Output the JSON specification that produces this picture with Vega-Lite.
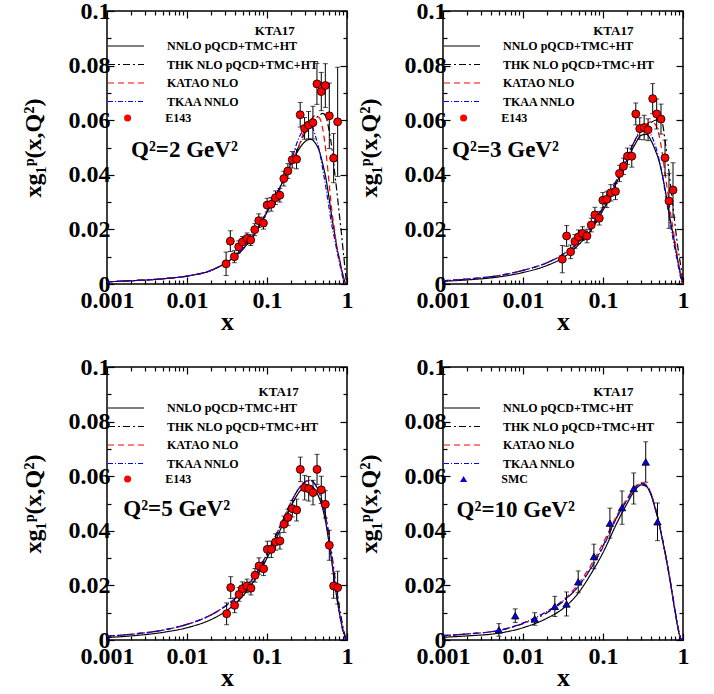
{
  "$schema": "https://vega.github.io/schema/vega-lite/v6.json",
  "background": "white",
  "padding": {"left": 20, "top": -2, "right": 2, "bottom": 0},
  "config": {
    "font": "Liberation Serif",
    "view": {"stroke": "black", "strokeWidth": 1.5},
    "axis": {
      "labelFont": "Liberation Serif", "labelFontWeight": "bold", "labelFontSize": 24, "labelColor": "black",
      "titleFont": "Liberation Serif", "titleFontWeight": "bold", "titleFontSize": 26, "titleColor": "black",
      "domain": false, "grid": false, "tickColor": "black", "tickWidth": 1.2
    },
    "legend": {"labelFont": "Liberation Serif", "labelFontWeight": "bold", "labelFontSize": 12, "labelColor": "black"}
  },
  "datasets": {
    "curves": [
      {"panel":1,"model":"NNLO pQCD+TMC+HT","x":0.001,"y":0.0008},{"panel":1,"model":"NNLO pQCD+TMC+HT","x":0.002,"y":0.0012},{"panel":1,"model":"NNLO pQCD+TMC+HT","x":0.005,"y":0.0019},{"panel":1,"model":"NNLO pQCD+TMC+HT","x":0.01,"y":0.0029},{"panel":1,"model":"NNLO pQCD+TMC+HT","x":0.02,"y":0.005},{"panel":1,"model":"NNLO pQCD+TMC+HT","x":0.03,"y":0.0076},{"panel":1,"model":"NNLO pQCD+TMC+HT","x":0.05,"y":0.0128},{"panel":1,"model":"NNLO pQCD+TMC+HT","x":0.07,"y":0.0183},{"panel":1,"model":"NNLO pQCD+TMC+HT","x":0.1,"y":0.0264},{"panel":1,"model":"NNLO pQCD+TMC+HT","x":0.15,"y":0.0362},{"panel":1,"model":"NNLO pQCD+TMC+HT","x":0.2,"y":0.044},{"panel":1,"model":"NNLO pQCD+TMC+HT","x":0.25,"y":0.0493},{"panel":1,"model":"NNLO pQCD+TMC+HT","x":0.3,"y":0.0522},{"panel":1,"model":"NNLO pQCD+TMC+HT","x":0.35,"y":0.053},{"panel":1,"model":"NNLO pQCD+TMC+HT","x":0.4,"y":0.0517},{"panel":1,"model":"NNLO pQCD+TMC+HT","x":0.45,"y":0.0487},{"panel":1,"model":"NNLO pQCD+TMC+HT","x":0.5,"y":0.0437},{"panel":1,"model":"NNLO pQCD+TMC+HT","x":0.55,"y":0.038},{"panel":1,"model":"NNLO pQCD+TMC+HT","x":0.6,"y":0.031},{"panel":1,"model":"NNLO pQCD+TMC+HT","x":0.65,"y":0.024},{"panel":1,"model":"NNLO pQCD+TMC+HT","x":0.7,"y":0.0186},{"panel":1,"model":"NNLO pQCD+TMC+HT","x":0.75,"y":0.0131},{"panel":1,"model":"NNLO pQCD+TMC+HT","x":0.8,"y":0.0095},{"panel":1,"model":"NNLO pQCD+TMC+HT","x":0.85,"y":0.0058},{"panel":1,"model":"NNLO pQCD+TMC+HT","x":0.9,"y":0.0028},{"panel":1,"model":"NNLO pQCD+TMC+HT","x":0.95,"y":0.0005},{"panel":1,"model":"NNLO pQCD+TMC+HT","x":0.98,"y":0},
      {"panel":1,"model":"THK NLO pQCD+TMC+HT","x":0.001,"y":0.0008},{"panel":1,"model":"THK NLO pQCD+TMC+HT","x":0.002,"y":0.0012},{"panel":1,"model":"THK NLO pQCD+TMC+HT","x":0.005,"y":0.0019},{"panel":1,"model":"THK NLO pQCD+TMC+HT","x":0.01,"y":0.0029},{"panel":1,"model":"THK NLO pQCD+TMC+HT","x":0.02,"y":0.005},{"panel":1,"model":"THK NLO pQCD+TMC+HT","x":0.03,"y":0.0076},{"panel":1,"model":"THK NLO pQCD+TMC+HT","x":0.05,"y":0.0128},{"panel":1,"model":"THK NLO pQCD+TMC+HT","x":0.07,"y":0.0183},{"panel":1,"model":"THK NLO pQCD+TMC+HT","x":0.1,"y":0.0264},{"panel":1,"model":"THK NLO pQCD+TMC+HT","x":0.15,"y":0.0362},{"panel":1,"model":"THK NLO pQCD+TMC+HT","x":0.2,"y":0.044},{"panel":1,"model":"THK NLO pQCD+TMC+HT","x":0.25,"y":0.0505},{"panel":1,"model":"THK NLO pQCD+TMC+HT","x":0.3,"y":0.0555},{"panel":1,"model":"THK NLO pQCD+TMC+HT","x":0.35,"y":0.0585},{"panel":1,"model":"THK NLO pQCD+TMC+HT","x":0.4,"y":0.0605},{"panel":1,"model":"THK NLO pQCD+TMC+HT","x":0.45,"y":0.0618},{"panel":1,"model":"THK NLO pQCD+TMC+HT","x":0.5,"y":0.0625},{"panel":1,"model":"THK NLO pQCD+TMC+HT","x":0.55,"y":0.061},{"panel":1,"model":"THK NLO pQCD+TMC+HT","x":0.6,"y":0.0558},{"panel":1,"model":"THK NLO pQCD+TMC+HT","x":0.65,"y":0.0495},{"panel":1,"model":"THK NLO pQCD+TMC+HT","x":0.7,"y":0.041},{"panel":1,"model":"THK NLO pQCD+TMC+HT","x":0.75,"y":0.0335},{"panel":1,"model":"THK NLO pQCD+TMC+HT","x":0.8,"y":0.0258},{"panel":1,"model":"THK NLO pQCD+TMC+HT","x":0.85,"y":0.0188},{"panel":1,"model":"THK NLO pQCD+TMC+HT","x":0.9,"y":0.0115},{"panel":1,"model":"THK NLO pQCD+TMC+HT","x":0.95,"y":0.005},{"panel":1,"model":"THK NLO pQCD+TMC+HT","x":0.98,"y":0.0012},{"panel":1,"model":"THK NLO pQCD+TMC+HT","x":1,"y":0},
      {"panel":1,"model":"KATAO NLO","x":0.001,"y":0.0008},{"panel":1,"model":"KATAO NLO","x":0.002,"y":0.0012},{"panel":1,"model":"KATAO NLO","x":0.005,"y":0.0019},{"panel":1,"model":"KATAO NLO","x":0.01,"y":0.0029},{"panel":1,"model":"KATAO NLO","x":0.02,"y":0.005},{"panel":1,"model":"KATAO NLO","x":0.03,"y":0.0076},{"panel":1,"model":"KATAO NLO","x":0.05,"y":0.0128},{"panel":1,"model":"KATAO NLO","x":0.07,"y":0.0183},{"panel":1,"model":"KATAO NLO","x":0.1,"y":0.0264},{"panel":1,"model":"KATAO NLO","x":0.15,"y":0.0362},{"panel":1,"model":"KATAO NLO","x":0.2,"y":0.044},{"panel":1,"model":"KATAO NLO","x":0.25,"y":0.0505},{"panel":1,"model":"KATAO NLO","x":0.3,"y":0.057},{"panel":1,"model":"KATAO NLO","x":0.35,"y":0.06},{"panel":1,"model":"KATAO NLO","x":0.4,"y":0.0617},{"panel":1,"model":"KATAO NLO","x":0.45,"y":0.061},{"panel":1,"model":"KATAO NLO","x":0.5,"y":0.0565},{"panel":1,"model":"KATAO NLO","x":0.55,"y":0.0475},{"panel":1,"model":"KATAO NLO","x":0.6,"y":0.0364},{"panel":1,"model":"KATAO NLO","x":0.65,"y":0.0262},{"panel":1,"model":"KATAO NLO","x":0.7,"y":0.0197},{"panel":1,"model":"KATAO NLO","x":0.75,"y":0.013},{"panel":1,"model":"KATAO NLO","x":0.8,"y":0.009},{"panel":1,"model":"KATAO NLO","x":0.85,"y":0.0053},{"panel":1,"model":"KATAO NLO","x":0.9,"y":0.002},{"panel":1,"model":"KATAO NLO","x":0.95,"y":0.0003},{"panel":1,"model":"KATAO NLO","x":0.98,"y":0},
      {"panel":1,"model":"TKAA NNLO","x":0.001,"y":0.0008},{"panel":1,"model":"TKAA NNLO","x":0.002,"y":0.0012},{"panel":1,"model":"TKAA NNLO","x":0.005,"y":0.0019},{"panel":1,"model":"TKAA NNLO","x":0.01,"y":0.0029},{"panel":1,"model":"TKAA NNLO","x":0.02,"y":0.005},{"panel":1,"model":"TKAA NNLO","x":0.03,"y":0.0076},{"panel":1,"model":"TKAA NNLO","x":0.05,"y":0.0128},{"panel":1,"model":"TKAA NNLO","x":0.07,"y":0.0183},{"panel":1,"model":"TKAA NNLO","x":0.1,"y":0.0264},{"panel":1,"model":"TKAA NNLO","x":0.15,"y":0.0365},{"panel":1,"model":"TKAA NNLO","x":0.2,"y":0.045},{"panel":1,"model":"TKAA NNLO","x":0.25,"y":0.0535},{"panel":1,"model":"TKAA NNLO","x":0.3,"y":0.0572},{"panel":1,"model":"TKAA NNLO","x":0.35,"y":0.0585},{"panel":1,"model":"TKAA NNLO","x":0.4,"y":0.0545},{"panel":1,"model":"TKAA NNLO","x":0.45,"y":0.049},{"panel":1,"model":"TKAA NNLO","x":0.5,"y":0.0418},{"panel":1,"model":"TKAA NNLO","x":0.55,"y":0.0345},{"panel":1,"model":"TKAA NNLO","x":0.6,"y":0.0275},{"panel":1,"model":"TKAA NNLO","x":0.65,"y":0.021},{"panel":1,"model":"TKAA NNLO","x":0.7,"y":0.0165},{"panel":1,"model":"TKAA NNLO","x":0.75,"y":0.012},{"panel":1,"model":"TKAA NNLO","x":0.8,"y":0.0082},{"panel":1,"model":"TKAA NNLO","x":0.85,"y":0.0047},{"panel":1,"model":"TKAA NNLO","x":0.9,"y":0.0015},{"panel":1,"model":"TKAA NNLO","x":0.95,"y":0},

      {"panel":2,"model":"NNLO pQCD+TMC+HT","x":0.001,"y":0.001},{"panel":2,"model":"NNLO pQCD+TMC+HT","x":0.002,"y":0.0015},{"panel":2,"model":"NNLO pQCD+TMC+HT","x":0.005,"y":0.0026},{"panel":2,"model":"NNLO pQCD+TMC+HT","x":0.01,"y":0.0042},{"panel":2,"model":"NNLO pQCD+TMC+HT","x":0.02,"y":0.0068},{"panel":2,"model":"NNLO pQCD+TMC+HT","x":0.03,"y":0.0092},{"panel":2,"model":"NNLO pQCD+TMC+HT","x":0.05,"y":0.0145},{"panel":2,"model":"NNLO pQCD+TMC+HT","x":0.07,"y":0.0195},{"panel":2,"model":"NNLO pQCD+TMC+HT","x":0.1,"y":0.027},{"panel":2,"model":"NNLO pQCD+TMC+HT","x":0.15,"y":0.0375},{"panel":2,"model":"NNLO pQCD+TMC+HT","x":0.2,"y":0.0455},{"panel":2,"model":"NNLO pQCD+TMC+HT","x":0.25,"y":0.051},{"panel":2,"model":"NNLO pQCD+TMC+HT","x":0.3,"y":0.0545},{"panel":2,"model":"NNLO pQCD+TMC+HT","x":0.35,"y":0.0548},{"panel":2,"model":"NNLO pQCD+TMC+HT","x":0.4,"y":0.0525},{"panel":2,"model":"NNLO pQCD+TMC+HT","x":0.45,"y":0.049},{"panel":2,"model":"NNLO pQCD+TMC+HT","x":0.5,"y":0.0452},{"panel":2,"model":"NNLO pQCD+TMC+HT","x":0.55,"y":0.04},{"panel":2,"model":"NNLO pQCD+TMC+HT","x":0.6,"y":0.0344},{"panel":2,"model":"NNLO pQCD+TMC+HT","x":0.65,"y":0.0283},{"panel":2,"model":"NNLO pQCD+TMC+HT","x":0.7,"y":0.0228},{"panel":2,"model":"NNLO pQCD+TMC+HT","x":0.75,"y":0.0183},{"panel":2,"model":"NNLO pQCD+TMC+HT","x":0.8,"y":0.0138},{"panel":2,"model":"NNLO pQCD+TMC+HT","x":0.85,"y":0.0095},{"panel":2,"model":"NNLO pQCD+TMC+HT","x":0.9,"y":0.0058},{"panel":2,"model":"NNLO pQCD+TMC+HT","x":0.95,"y":0.0025},{"panel":2,"model":"NNLO pQCD+TMC+HT","x":0.98,"y":0.001},{"panel":2,"model":"NNLO pQCD+TMC+HT","x":1,"y":0},
      {"panel":2,"model":"THK NLO pQCD+TMC+HT","x":0.001,"y":0.0012},{"panel":2,"model":"THK NLO pQCD+TMC+HT","x":0.002,"y":0.0018},{"panel":2,"model":"THK NLO pQCD+TMC+HT","x":0.005,"y":0.0031},{"panel":2,"model":"THK NLO pQCD+TMC+HT","x":0.01,"y":0.005},{"panel":2,"model":"THK NLO pQCD+TMC+HT","x":0.02,"y":0.0078},{"panel":2,"model":"THK NLO pQCD+TMC+HT","x":0.03,"y":0.0104},{"panel":2,"model":"THK NLO pQCD+TMC+HT","x":0.05,"y":0.0155},{"panel":2,"model":"THK NLO pQCD+TMC+HT","x":0.07,"y":0.0205},{"panel":2,"model":"THK NLO pQCD+TMC+HT","x":0.1,"y":0.028},{"panel":2,"model":"THK NLO pQCD+TMC+HT","x":0.15,"y":0.0385},{"panel":2,"model":"THK NLO pQCD+TMC+HT","x":0.2,"y":0.0465},{"panel":2,"model":"THK NLO pQCD+TMC+HT","x":0.25,"y":0.0525},{"panel":2,"model":"THK NLO pQCD+TMC+HT","x":0.3,"y":0.056},{"panel":2,"model":"THK NLO pQCD+TMC+HT","x":0.35,"y":0.058},{"panel":2,"model":"THK NLO pQCD+TMC+HT","x":0.4,"y":0.0592},{"panel":2,"model":"THK NLO pQCD+TMC+HT","x":0.45,"y":0.06},{"panel":2,"model":"THK NLO pQCD+TMC+HT","x":0.5,"y":0.0602},{"panel":2,"model":"THK NLO pQCD+TMC+HT","x":0.55,"y":0.059},{"panel":2,"model":"THK NLO pQCD+TMC+HT","x":0.6,"y":0.052},{"panel":2,"model":"THK NLO pQCD+TMC+HT","x":0.65,"y":0.044},{"panel":2,"model":"THK NLO pQCD+TMC+HT","x":0.7,"y":0.036},{"panel":2,"model":"THK NLO pQCD+TMC+HT","x":0.75,"y":0.0285},{"panel":2,"model":"THK NLO pQCD+TMC+HT","x":0.8,"y":0.021},{"panel":2,"model":"THK NLO pQCD+TMC+HT","x":0.85,"y":0.0148},{"panel":2,"model":"THK NLO pQCD+TMC+HT","x":0.9,"y":0.0098},{"panel":2,"model":"THK NLO pQCD+TMC+HT","x":0.95,"y":0.0055},{"panel":2,"model":"THK NLO pQCD+TMC+HT","x":0.98,"y":0.002},{"panel":2,"model":"THK NLO pQCD+TMC+HT","x":1,"y":0},
      {"panel":2,"model":"KATAO NLO","x":0.001,"y":0.0012},{"panel":2,"model":"KATAO NLO","x":0.002,"y":0.0018},{"panel":2,"model":"KATAO NLO","x":0.005,"y":0.0031},{"panel":2,"model":"KATAO NLO","x":0.01,"y":0.005},{"panel":2,"model":"KATAO NLO","x":0.02,"y":0.0078},{"panel":2,"model":"KATAO NLO","x":0.03,"y":0.0104},{"panel":2,"model":"KATAO NLO","x":0.05,"y":0.0155},{"panel":2,"model":"KATAO NLO","x":0.07,"y":0.0205},{"panel":2,"model":"KATAO NLO","x":0.1,"y":0.028},{"panel":2,"model":"KATAO NLO","x":0.15,"y":0.0385},{"panel":2,"model":"KATAO NLO","x":0.2,"y":0.0465},{"panel":2,"model":"KATAO NLO","x":0.25,"y":0.0525},{"panel":2,"model":"KATAO NLO","x":0.3,"y":0.0565},{"panel":2,"model":"KATAO NLO","x":0.35,"y":0.0585},{"panel":2,"model":"KATAO NLO","x":0.4,"y":0.0595},{"panel":2,"model":"KATAO NLO","x":0.45,"y":0.0585},{"panel":2,"model":"KATAO NLO","x":0.5,"y":0.0548},{"panel":2,"model":"KATAO NLO","x":0.55,"y":0.048},{"panel":2,"model":"KATAO NLO","x":0.6,"y":0.04},{"panel":2,"model":"KATAO NLO","x":0.65,"y":0.0328},{"panel":2,"model":"KATAO NLO","x":0.7,"y":0.0258},{"panel":2,"model":"KATAO NLO","x":0.75,"y":0.0203},{"panel":2,"model":"KATAO NLO","x":0.8,"y":0.015},{"panel":2,"model":"KATAO NLO","x":0.85,"y":0.0103},{"panel":2,"model":"KATAO NLO","x":0.9,"y":0.0056},{"panel":2,"model":"KATAO NLO","x":0.95,"y":0.002},{"panel":2,"model":"KATAO NLO","x":0.98,"y":0},
      {"panel":2,"model":"TKAA NNLO","x":0.001,"y":0.0012},{"panel":2,"model":"TKAA NNLO","x":0.002,"y":0.0018},{"panel":2,"model":"TKAA NNLO","x":0.005,"y":0.0031},{"panel":2,"model":"TKAA NNLO","x":0.01,"y":0.005},{"panel":2,"model":"TKAA NNLO","x":0.02,"y":0.0078},{"panel":2,"model":"TKAA NNLO","x":0.03,"y":0.0104},{"panel":2,"model":"TKAA NNLO","x":0.05,"y":0.0155},{"panel":2,"model":"TKAA NNLO","x":0.07,"y":0.0205},{"panel":2,"model":"TKAA NNLO","x":0.1,"y":0.028},{"panel":2,"model":"TKAA NNLO","x":0.15,"y":0.0385},{"panel":2,"model":"TKAA NNLO","x":0.2,"y":0.0465},{"panel":2,"model":"TKAA NNLO","x":0.25,"y":0.0525},{"panel":2,"model":"TKAA NNLO","x":0.3,"y":0.0568},{"panel":2,"model":"TKAA NNLO","x":0.35,"y":0.057},{"panel":2,"model":"TKAA NNLO","x":0.4,"y":0.0545},{"panel":2,"model":"TKAA NNLO","x":0.45,"y":0.0508},{"panel":2,"model":"TKAA NNLO","x":0.5,"y":0.0458},{"panel":2,"model":"TKAA NNLO","x":0.55,"y":0.0403},{"panel":2,"model":"TKAA NNLO","x":0.6,"y":0.0333},{"panel":2,"model":"TKAA NNLO","x":0.65,"y":0.0272},{"panel":2,"model":"TKAA NNLO","x":0.7,"y":0.0215},{"panel":2,"model":"TKAA NNLO","x":0.75,"y":0.0165},{"panel":2,"model":"TKAA NNLO","x":0.8,"y":0.0122},{"panel":2,"model":"TKAA NNLO","x":0.85,"y":0.0083},{"panel":2,"model":"TKAA NNLO","x":0.9,"y":0.0045},{"panel":2,"model":"TKAA NNLO","x":0.95,"y":0.0015},{"panel":2,"model":"TKAA NNLO","x":0.98,"y":0},

      {"panel":3,"model":"NNLO pQCD+TMC+HT","x":0.001,"y":0.0009},{"panel":3,"model":"NNLO pQCD+TMC+HT","x":0.002,"y":0.0015},{"panel":3,"model":"NNLO pQCD+TMC+HT","x":0.005,"y":0.0028},{"panel":3,"model":"NNLO pQCD+TMC+HT","x":0.01,"y":0.0045},{"panel":3,"model":"NNLO pQCD+TMC+HT","x":0.02,"y":0.0075},{"panel":3,"model":"NNLO pQCD+TMC+HT","x":0.03,"y":0.0104},{"panel":3,"model":"NNLO pQCD+TMC+HT","x":0.05,"y":0.0162},{"panel":3,"model":"NNLO pQCD+TMC+HT","x":0.07,"y":0.022},{"panel":3,"model":"NNLO pQCD+TMC+HT","x":0.1,"y":0.03},{"panel":3,"model":"NNLO pQCD+TMC+HT","x":0.15,"y":0.041},{"panel":3,"model":"NNLO pQCD+TMC+HT","x":0.2,"y":0.049},{"panel":3,"model":"NNLO pQCD+TMC+HT","x":0.25,"y":0.054},{"panel":3,"model":"NNLO pQCD+TMC+HT","x":0.3,"y":0.0563},{"panel":3,"model":"NNLO pQCD+TMC+HT","x":0.35,"y":0.0565},{"panel":3,"model":"NNLO pQCD+TMC+HT","x":0.4,"y":0.055},{"panel":3,"model":"NNLO pQCD+TMC+HT","x":0.45,"y":0.052},{"panel":3,"model":"NNLO pQCD+TMC+HT","x":0.5,"y":0.0478},{"panel":3,"model":"NNLO pQCD+TMC+HT","x":0.55,"y":0.042},{"panel":3,"model":"NNLO pQCD+TMC+HT","x":0.6,"y":0.035},{"panel":3,"model":"NNLO pQCD+TMC+HT","x":0.65,"y":0.028},{"panel":3,"model":"NNLO pQCD+TMC+HT","x":0.7,"y":0.021},{"panel":3,"model":"NNLO pQCD+TMC+HT","x":0.75,"y":0.0152},{"panel":3,"model":"NNLO pQCD+TMC+HT","x":0.8,"y":0.0103},{"panel":3,"model":"NNLO pQCD+TMC+HT","x":0.85,"y":0.0063},{"panel":3,"model":"NNLO pQCD+TMC+HT","x":0.9,"y":0.0032},{"panel":3,"model":"NNLO pQCD+TMC+HT","x":0.95,"y":0.001},{"panel":3,"model":"NNLO pQCD+TMC+HT","x":0.98,"y":0},
      {"panel":3,"model":"THK NLO pQCD+TMC+HT","x":0.001,"y":0.0014},{"panel":3,"model":"THK NLO pQCD+TMC+HT","x":0.002,"y":0.0021},{"panel":3,"model":"THK NLO pQCD+TMC+HT","x":0.005,"y":0.0036},{"panel":3,"model":"THK NLO pQCD+TMC+HT","x":0.01,"y":0.0057},{"panel":3,"model":"THK NLO pQCD+TMC+HT","x":0.02,"y":0.0092},{"panel":3,"model":"THK NLO pQCD+TMC+HT","x":0.03,"y":0.0124},{"panel":3,"model":"THK NLO pQCD+TMC+HT","x":0.05,"y":0.018},{"panel":3,"model":"THK NLO pQCD+TMC+HT","x":0.07,"y":0.0235},{"panel":3,"model":"THK NLO pQCD+TMC+HT","x":0.1,"y":0.0315},{"panel":3,"model":"THK NLO pQCD+TMC+HT","x":0.15,"y":0.0425},{"panel":3,"model":"THK NLO pQCD+TMC+HT","x":0.2,"y":0.0505},{"panel":3,"model":"THK NLO pQCD+TMC+HT","x":0.25,"y":0.0555},{"panel":3,"model":"THK NLO pQCD+TMC+HT","x":0.3,"y":0.058},{"panel":3,"model":"THK NLO pQCD+TMC+HT","x":0.35,"y":0.0585},{"panel":3,"model":"THK NLO pQCD+TMC+HT","x":0.4,"y":0.057},{"panel":3,"model":"THK NLO pQCD+TMC+HT","x":0.45,"y":0.054},{"panel":3,"model":"THK NLO pQCD+TMC+HT","x":0.5,"y":0.0495},{"panel":3,"model":"THK NLO pQCD+TMC+HT","x":0.55,"y":0.0445},{"panel":3,"model":"THK NLO pQCD+TMC+HT","x":0.6,"y":0.038},{"panel":3,"model":"THK NLO pQCD+TMC+HT","x":0.65,"y":0.031},{"panel":3,"model":"THK NLO pQCD+TMC+HT","x":0.7,"y":0.024},{"panel":3,"model":"THK NLO pQCD+TMC+HT","x":0.75,"y":0.0178},{"panel":3,"model":"THK NLO pQCD+TMC+HT","x":0.8,"y":0.0125},{"panel":3,"model":"THK NLO pQCD+TMC+HT","x":0.85,"y":0.008},{"panel":3,"model":"THK NLO pQCD+TMC+HT","x":0.9,"y":0.0042},{"panel":3,"model":"THK NLO pQCD+TMC+HT","x":0.95,"y":0.0015},{"panel":3,"model":"THK NLO pQCD+TMC+HT","x":0.98,"y":0.0004},{"panel":3,"model":"THK NLO pQCD+TMC+HT","x":1,"y":0},
      {"panel":3,"model":"KATAO NLO","x":0.001,"y":0.0014},{"panel":3,"model":"KATAO NLO","x":0.002,"y":0.0021},{"panel":3,"model":"KATAO NLO","x":0.005,"y":0.0036},{"panel":3,"model":"KATAO NLO","x":0.01,"y":0.0057},{"panel":3,"model":"KATAO NLO","x":0.02,"y":0.0092},{"panel":3,"model":"KATAO NLO","x":0.03,"y":0.0124},{"panel":3,"model":"KATAO NLO","x":0.05,"y":0.018},{"panel":3,"model":"KATAO NLO","x":0.07,"y":0.0235},{"panel":3,"model":"KATAO NLO","x":0.1,"y":0.0315},{"panel":3,"model":"KATAO NLO","x":0.15,"y":0.0425},{"panel":3,"model":"KATAO NLO","x":0.2,"y":0.0505},{"panel":3,"model":"KATAO NLO","x":0.25,"y":0.0555},{"panel":3,"model":"KATAO NLO","x":0.3,"y":0.058},{"panel":3,"model":"KATAO NLO","x":0.35,"y":0.0585},{"panel":3,"model":"KATAO NLO","x":0.4,"y":0.057},{"panel":3,"model":"KATAO NLO","x":0.45,"y":0.054},{"panel":3,"model":"KATAO NLO","x":0.5,"y":0.0495},{"panel":3,"model":"KATAO NLO","x":0.55,"y":0.044},{"panel":3,"model":"KATAO NLO","x":0.6,"y":0.037},{"panel":3,"model":"KATAO NLO","x":0.65,"y":0.0295},{"panel":3,"model":"KATAO NLO","x":0.7,"y":0.022},{"panel":3,"model":"KATAO NLO","x":0.75,"y":0.0158},{"panel":3,"model":"KATAO NLO","x":0.8,"y":0.0105},{"panel":3,"model":"KATAO NLO","x":0.85,"y":0.0062},{"panel":3,"model":"KATAO NLO","x":0.9,"y":0.0028},{"panel":3,"model":"KATAO NLO","x":0.95,"y":0.0006},{"panel":3,"model":"KATAO NLO","x":0.98,"y":0},
      {"panel":3,"model":"TKAA NNLO","x":0.001,"y":0.0014},{"panel":3,"model":"TKAA NNLO","x":0.002,"y":0.0021},{"panel":3,"model":"TKAA NNLO","x":0.005,"y":0.0036},{"panel":3,"model":"TKAA NNLO","x":0.01,"y":0.0057},{"panel":3,"model":"TKAA NNLO","x":0.02,"y":0.0092},{"panel":3,"model":"TKAA NNLO","x":0.03,"y":0.0124},{"panel":3,"model":"TKAA NNLO","x":0.05,"y":0.018},{"panel":3,"model":"TKAA NNLO","x":0.07,"y":0.0235},{"panel":3,"model":"TKAA NNLO","x":0.1,"y":0.0315},{"panel":3,"model":"TKAA NNLO","x":0.15,"y":0.0425},{"panel":3,"model":"TKAA NNLO","x":0.2,"y":0.0505},{"panel":3,"model":"TKAA NNLO","x":0.25,"y":0.0555},{"panel":3,"model":"TKAA NNLO","x":0.3,"y":0.058},{"panel":3,"model":"TKAA NNLO","x":0.35,"y":0.0585},{"panel":3,"model":"TKAA NNLO","x":0.4,"y":0.057},{"panel":3,"model":"TKAA NNLO","x":0.45,"y":0.054},{"panel":3,"model":"TKAA NNLO","x":0.5,"y":0.0495},{"panel":3,"model":"TKAA NNLO","x":0.55,"y":0.0435},{"panel":3,"model":"TKAA NNLO","x":0.6,"y":0.0362},{"panel":3,"model":"TKAA NNLO","x":0.65,"y":0.0287},{"panel":3,"model":"TKAA NNLO","x":0.7,"y":0.0212},{"panel":3,"model":"TKAA NNLO","x":0.75,"y":0.0152},{"panel":3,"model":"TKAA NNLO","x":0.8,"y":0.01},{"panel":3,"model":"TKAA NNLO","x":0.85,"y":0.0058},{"panel":3,"model":"TKAA NNLO","x":0.9,"y":0.0025},{"panel":3,"model":"TKAA NNLO","x":0.95,"y":0.0005},{"panel":3,"model":"TKAA NNLO","x":0.98,"y":0},

      {"panel":4,"model":"NNLO pQCD+TMC+HT","x":0.001,"y":0.001},{"panel":4,"model":"NNLO pQCD+TMC+HT","x":0.002,"y":0.0015},{"panel":4,"model":"NNLO pQCD+TMC+HT","x":0.005,"y":0.0025},{"panel":4,"model":"NNLO pQCD+TMC+HT","x":0.01,"y":0.0045},{"panel":4,"model":"NNLO pQCD+TMC+HT","x":0.02,"y":0.008},{"panel":4,"model":"NNLO pQCD+TMC+HT","x":0.03,"y":0.011},{"panel":4,"model":"NNLO pQCD+TMC+HT","x":0.05,"y":0.0175},{"panel":4,"model":"NNLO pQCD+TMC+HT","x":0.07,"y":0.024},{"panel":4,"model":"NNLO pQCD+TMC+HT","x":0.1,"y":0.032},{"panel":4,"model":"NNLO pQCD+TMC+HT","x":0.15,"y":0.043},{"panel":4,"model":"NNLO pQCD+TMC+HT","x":0.2,"y":0.05},{"panel":4,"model":"NNLO pQCD+TMC+HT","x":0.25,"y":0.0548},{"panel":4,"model":"NNLO pQCD+TMC+HT","x":0.3,"y":0.0568},{"panel":4,"model":"NNLO pQCD+TMC+HT","x":0.35,"y":0.0562},{"panel":4,"model":"NNLO pQCD+TMC+HT","x":0.4,"y":0.053},{"panel":4,"model":"NNLO pQCD+TMC+HT","x":0.45,"y":0.048},{"panel":4,"model":"NNLO pQCD+TMC+HT","x":0.5,"y":0.0428},{"panel":4,"model":"NNLO pQCD+TMC+HT","x":0.55,"y":0.037},{"panel":4,"model":"NNLO pQCD+TMC+HT","x":0.6,"y":0.0315},{"panel":4,"model":"NNLO pQCD+TMC+HT","x":0.65,"y":0.026},{"panel":4,"model":"NNLO pQCD+TMC+HT","x":0.7,"y":0.0205},{"panel":4,"model":"NNLO pQCD+TMC+HT","x":0.75,"y":0.015},{"panel":4,"model":"NNLO pQCD+TMC+HT","x":0.8,"y":0.01},{"panel":4,"model":"NNLO pQCD+TMC+HT","x":0.85,"y":0.0055},{"panel":4,"model":"NNLO pQCD+TMC+HT","x":0.9,"y":0.002},{"panel":4,"model":"NNLO pQCD+TMC+HT","x":0.95,"y":0.0003},{"panel":4,"model":"NNLO pQCD+TMC+HT","x":0.98,"y":0},
      {"panel":4,"model":"THK NLO pQCD+TMC+HT","x":0.001,"y":0.0016},{"panel":4,"model":"THK NLO pQCD+TMC+HT","x":0.002,"y":0.0022},{"panel":4,"model":"THK NLO pQCD+TMC+HT","x":0.005,"y":0.0035},{"panel":4,"model":"THK NLO pQCD+TMC+HT","x":0.01,"y":0.006},{"panel":4,"model":"THK NLO pQCD+TMC+HT","x":0.02,"y":0.01},{"panel":4,"model":"THK NLO pQCD+TMC+HT","x":0.03,"y":0.0135},{"panel":4,"model":"THK NLO pQCD+TMC+HT","x":0.05,"y":0.02},{"panel":4,"model":"THK NLO pQCD+TMC+HT","x":0.07,"y":0.0262},{"panel":4,"model":"THK NLO pQCD+TMC+HT","x":0.1,"y":0.0345},{"panel":4,"model":"THK NLO pQCD+TMC+HT","x":0.15,"y":0.0452},{"panel":4,"model":"THK NLO pQCD+TMC+HT","x":0.2,"y":0.0514},{"panel":4,"model":"THK NLO pQCD+TMC+HT","x":0.25,"y":0.0557},{"panel":4,"model":"THK NLO pQCD+TMC+HT","x":0.3,"y":0.0574},{"panel":4,"model":"THK NLO pQCD+TMC+HT","x":0.35,"y":0.0566},{"panel":4,"model":"THK NLO pQCD+TMC+HT","x":0.4,"y":0.0534},{"panel":4,"model":"THK NLO pQCD+TMC+HT","x":0.45,"y":0.0485},{"panel":4,"model":"THK NLO pQCD+TMC+HT","x":0.5,"y":0.0433},{"panel":4,"model":"THK NLO pQCD+TMC+HT","x":0.55,"y":0.0375},{"panel":4,"model":"THK NLO pQCD+TMC+HT","x":0.6,"y":0.032},{"panel":4,"model":"THK NLO pQCD+TMC+HT","x":0.65,"y":0.0266},{"panel":4,"model":"THK NLO pQCD+TMC+HT","x":0.7,"y":0.0211},{"panel":4,"model":"THK NLO pQCD+TMC+HT","x":0.75,"y":0.0157},{"panel":4,"model":"THK NLO pQCD+TMC+HT","x":0.8,"y":0.0106},{"panel":4,"model":"THK NLO pQCD+TMC+HT","x":0.85,"y":0.0061},{"panel":4,"model":"THK NLO pQCD+TMC+HT","x":0.9,"y":0.0025},{"panel":4,"model":"THK NLO pQCD+TMC+HT","x":0.95,"y":0.0006},{"panel":4,"model":"THK NLO pQCD+TMC+HT","x":0.98,"y":0.0001},
      {"panel":4,"model":"KATAO NLO","x":0.001,"y":0.0016},{"panel":4,"model":"KATAO NLO","x":0.002,"y":0.0022},{"panel":4,"model":"KATAO NLO","x":0.005,"y":0.0035},{"panel":4,"model":"KATAO NLO","x":0.01,"y":0.0062},{"panel":4,"model":"KATAO NLO","x":0.02,"y":0.0105},{"panel":4,"model":"KATAO NLO","x":0.03,"y":0.014},{"panel":4,"model":"KATAO NLO","x":0.05,"y":0.0208},{"panel":4,"model":"KATAO NLO","x":0.07,"y":0.0272},{"panel":4,"model":"KATAO NLO","x":0.1,"y":0.0355},{"panel":4,"model":"KATAO NLO","x":0.15,"y":0.0458},{"panel":4,"model":"KATAO NLO","x":0.2,"y":0.0518},{"panel":4,"model":"KATAO NLO","x":0.25,"y":0.056},{"panel":4,"model":"KATAO NLO","x":0.3,"y":0.0577},{"panel":4,"model":"KATAO NLO","x":0.35,"y":0.0568},{"panel":4,"model":"KATAO NLO","x":0.4,"y":0.0535},{"panel":4,"model":"KATAO NLO","x":0.45,"y":0.0485},{"panel":4,"model":"KATAO NLO","x":0.5,"y":0.0432},{"panel":4,"model":"KATAO NLO","x":0.55,"y":0.0373},{"panel":4,"model":"KATAO NLO","x":0.6,"y":0.0318},{"panel":4,"model":"KATAO NLO","x":0.65,"y":0.0263},{"panel":4,"model":"KATAO NLO","x":0.7,"y":0.0208},{"panel":4,"model":"KATAO NLO","x":0.75,"y":0.0153},{"panel":4,"model":"KATAO NLO","x":0.8,"y":0.0102},{"panel":4,"model":"KATAO NLO","x":0.85,"y":0.0057},{"panel":4,"model":"KATAO NLO","x":0.9,"y":0.0021},{"panel":4,"model":"KATAO NLO","x":0.95,"y":0.0003},{"panel":4,"model":"KATAO NLO","x":0.98,"y":0},
      {"panel":4,"model":"TKAA NNLO","x":0.001,"y":0.0016},{"panel":4,"model":"TKAA NNLO","x":0.002,"y":0.0022},{"panel":4,"model":"TKAA NNLO","x":0.005,"y":0.0035},{"panel":4,"model":"TKAA NNLO","x":0.01,"y":0.0062},{"panel":4,"model":"TKAA NNLO","x":0.02,"y":0.0105},{"panel":4,"model":"TKAA NNLO","x":0.03,"y":0.0138},{"panel":4,"model":"TKAA NNLO","x":0.05,"y":0.0198},{"panel":4,"model":"TKAA NNLO","x":0.07,"y":0.026},{"panel":4,"model":"TKAA NNLO","x":0.1,"y":0.034},{"panel":4,"model":"TKAA NNLO","x":0.15,"y":0.045},{"panel":4,"model":"TKAA NNLO","x":0.2,"y":0.0512},{"panel":4,"model":"TKAA NNLO","x":0.25,"y":0.0556},{"panel":4,"model":"TKAA NNLO","x":0.3,"y":0.0573},{"panel":4,"model":"TKAA NNLO","x":0.35,"y":0.0565},{"panel":4,"model":"TKAA NNLO","x":0.4,"y":0.0532},{"panel":4,"model":"TKAA NNLO","x":0.45,"y":0.0482},{"panel":4,"model":"TKAA NNLO","x":0.5,"y":0.043},{"panel":4,"model":"TKAA NNLO","x":0.55,"y":0.0371},{"panel":4,"model":"TKAA NNLO","x":0.6,"y":0.0316},{"panel":4,"model":"TKAA NNLO","x":0.65,"y":0.0261},{"panel":4,"model":"TKAA NNLO","x":0.7,"y":0.0206},{"panel":4,"model":"TKAA NNLO","x":0.75,"y":0.0151},{"panel":4,"model":"TKAA NNLO","x":0.8,"y":0.0101},{"panel":4,"model":"TKAA NNLO","x":0.85,"y":0.0056},{"panel":4,"model":"TKAA NNLO","x":0.9,"y":0.002},{"panel":4,"model":"TKAA NNLO","x":0.95,"y":0.0003},{"panel":4,"model":"TKAA NNLO","x":0.98,"y":0}
    ],
    "points": [
      {"panel":1,"set":"E143","x":0.0308,"y":0.0074,"lo":0.0031,"hi":0.0117},{"panel":1,"set":"E143","x":0.0348,"y":0.0157,"lo":0.0119,"hi":0.0195},{"panel":1,"set":"E143","x":0.0391,"y":0.01,"lo":0.0078,"hi":0.0122},{"panel":1,"set":"E143","x":0.0443,"y":0.0136,"lo":0.0114,"hi":0.0158},{"panel":1,"set":"E143","x":0.0492,"y":0.0154,"lo":0.0134,"hi":0.0174},{"panel":1,"set":"E143","x":0.0563,"y":0.0167,"lo":0.0147,"hi":0.0187},{"panel":1,"set":"E143","x":0.0626,"y":0.0161,"lo":0.0141,"hi":0.0181},{"panel":1,"set":"E143","x":0.0703,"y":0.0199,"lo":0.0177,"hi":0.0221},{"panel":1,"set":"E143","x":0.0789,"y":0.0232,"lo":0.0207,"hi":0.0257},{"panel":1,"set":"E143","x":0.0903,"y":0.0223,"lo":0.0201,"hi":0.0245},{"panel":1,"set":"E143","x":0.1004,"y":0.0289,"lo":0.0264,"hi":0.0314},{"panel":1,"set":"E143","x":0.1128,"y":0.0292,"lo":0.0267,"hi":0.0317},{"panel":1,"set":"E143","x":0.1277,"y":0.0316,"lo":0.0291,"hi":0.0341},{"panel":1,"set":"E143","x":0.1446,"y":0.0325,"lo":0.03,"hi":0.035},{"panel":1,"set":"E143","x":0.1624,"y":0.0386,"lo":0.0359,"hi":0.0413},{"panel":1,"set":"E143","x":0.1824,"y":0.0414,"lo":0.0387,"hi":0.0441},{"panel":1,"set":"E143","x":0.2065,"y":0.0455,"lo":0.0425,"hi":0.0485},{"panel":1,"set":"E143","x":0.234,"y":0.0457,"lo":0.0422,"hi":0.0492},{"panel":1,"set":"E143","x":0.26,"y":0.062,"lo":0.0575,"hi":0.0665},{"panel":1,"set":"E143","x":0.295,"y":0.057,"lo":0.053,"hi":0.061},{"panel":1,"set":"E143","x":0.331,"y":0.0582,"lo":0.0532,"hi":0.0632},{"panel":1,"set":"E143","x":0.375,"y":0.0591,"lo":0.0531,"hi":0.0651},{"panel":1,"set":"E143","x":0.421,"y":0.0733,"lo":0.0658,"hi":0.0808},{"panel":1,"set":"E143","x":0.477,"y":0.0705,"lo":0.0635,"hi":0.0775},{"panel":1,"set":"E143","x":0.536,"y":0.0727,"lo":0.0647,"hi":0.0807},{"panel":1,"set":"E143","x":0.601,"y":0.0616,"lo":0.0496,"hi":0.0736},{"panel":1,"set":"E143","x":0.681,"y":0.0461,"lo":0.0371,"hi":0.0551},{"panel":1,"set":"E143","x":0.764,"y":0.0594,"lo":0.0394,"hi":0.0794},
      {"panel":2,"set":"E143","x":0.031,"y":0.0091,"lo":0.0041,"hi":0.0141},{"panel":2,"set":"E143","x":0.0351,"y":0.0176,"lo":0.0138,"hi":0.0214},{"panel":2,"set":"E143","x":0.0394,"y":0.0118,"lo":0.0093,"hi":0.0143},{"panel":2,"set":"E143","x":0.0446,"y":0.0156,"lo":0.0131,"hi":0.0181},{"panel":2,"set":"E143","x":0.0495,"y":0.0173,"lo":0.0148,"hi":0.0198},{"panel":2,"set":"E143","x":0.0556,"y":0.0185,"lo":0.016,"hi":0.021},{"panel":2,"set":"E143","x":0.063,"y":0.0176,"lo":0.0151,"hi":0.0201},{"panel":2,"set":"E143","x":0.0713,"y":0.0216,"lo":0.0191,"hi":0.0241},{"panel":2,"set":"E143","x":0.0792,"y":0.0253,"lo":0.0225,"hi":0.0281},{"panel":2,"set":"E143","x":0.0898,"y":0.0241,"lo":0.0216,"hi":0.0266},{"panel":2,"set":"E143","x":0.0996,"y":0.0307,"lo":0.0279,"hi":0.0335},{"panel":2,"set":"E143","x":0.1117,"y":0.031,"lo":0.028,"hi":0.034},{"panel":2,"set":"E143","x":0.1253,"y":0.0334,"lo":0.0304,"hi":0.0364},{"panel":2,"set":"E143","x":0.1432,"y":0.0339,"lo":0.0309,"hi":0.0369},{"panel":2,"set":"E143","x":0.1607,"y":0.0405,"lo":0.0375,"hi":0.0435},{"panel":2,"set":"E143","x":0.1803,"y":0.0431,"lo":0.0401,"hi":0.0461},{"panel":2,"set":"E143","x":0.2023,"y":0.0468,"lo":0.0438,"hi":0.0498},{"panel":2,"set":"E143","x":0.229,"y":0.0468,"lo":0.0428,"hi":0.0508},{"panel":2,"set":"E143","x":0.257,"y":0.0623,"lo":0.0583,"hi":0.0663},{"panel":2,"set":"E143","x":0.288,"y":0.0569,"lo":0.0529,"hi":0.0609},{"panel":2,"set":"E143","x":0.327,"y":0.0573,"lo":0.0528,"hi":0.0618},{"panel":2,"set":"E143","x":0.366,"y":0.0565,"lo":0.0525,"hi":0.0605},{"panel":2,"set":"E143","x":0.418,"y":0.0679,"lo":0.0624,"hi":0.0734},{"panel":2,"set":"E143","x":0.469,"y":0.0623,"lo":0.0568,"hi":0.0678},{"panel":2,"set":"E143","x":0.531,"y":0.0604,"lo":0.0549,"hi":0.0659},{"panel":2,"set":"E143","x":0.596,"y":0.0462,"lo":0.0397,"hi":0.0527},{"panel":2,"set":"E143","x":0.668,"y":0.0304,"lo":0.0204,"hi":0.0404},{"panel":2,"set":"E143","x":0.75,"y":0.0344,"lo":0.0244,"hi":0.0444},
      {"panel":3,"set":"E143","x":0.0313,"y":0.0096,"lo":0.0056,"hi":0.0136},{"panel":3,"set":"E143","x":0.0352,"y":0.0192,"lo":0.0152,"hi":0.0232},{"panel":3,"set":"E143","x":0.0394,"y":0.0127,"lo":0.01,"hi":0.0154},{"panel":3,"set":"E143","x":0.0447,"y":0.0167,"lo":0.0142,"hi":0.0192},{"panel":3,"set":"E143","x":0.0492,"y":0.0188,"lo":0.0163,"hi":0.0213},{"panel":3,"set":"E143","x":0.0562,"y":0.0198,"lo":0.0173,"hi":0.0223},{"panel":3,"set":"E143","x":0.063,"y":0.019,"lo":0.0165,"hi":0.0215},{"panel":3,"set":"E143","x":0.0708,"y":0.0237,"lo":0.0212,"hi":0.0262},{"panel":3,"set":"E143","x":0.0794,"y":0.0271,"lo":0.0241,"hi":0.0301},{"panel":3,"set":"E143","x":0.0908,"y":0.0261,"lo":0.0236,"hi":0.0286},{"panel":3,"set":"E143","x":0.1009,"y":0.0332,"lo":0.0302,"hi":0.0362},{"panel":3,"set":"E143","x":0.1132,"y":0.0332,"lo":0.0302,"hi":0.0362},{"panel":3,"set":"E143","x":0.128,"y":0.0359,"lo":0.0329,"hi":0.0389},{"panel":3,"set":"E143","x":0.145,"y":0.0363,"lo":0.0333,"hi":0.0393},{"panel":3,"set":"E143","x":0.163,"y":0.0424,"lo":0.0394,"hi":0.0454},{"panel":3,"set":"E143","x":0.183,"y":0.0449,"lo":0.0419,"hi":0.0479},{"panel":3,"set":"E143","x":0.207,"y":0.0481,"lo":0.0451,"hi":0.0511},{"panel":3,"set":"E143","x":0.235,"y":0.0476,"lo":0.0436,"hi":0.0516},{"panel":3,"set":"E143","x":0.261,"y":0.0625,"lo":0.058,"hi":0.067},{"panel":3,"set":"E143","x":0.296,"y":0.0558,"lo":0.0513,"hi":0.0603},{"panel":3,"set":"E143","x":0.332,"y":0.0554,"lo":0.0509,"hi":0.0599},{"panel":3,"set":"E143","x":0.376,"y":0.054,"lo":0.0495,"hi":0.0585},{"panel":3,"set":"E143","x":0.422,"y":0.0625,"lo":0.057,"hi":0.068},{"panel":3,"set":"E143","x":0.477,"y":0.055,"lo":0.05,"hi":0.06},{"panel":3,"set":"E143","x":0.536,"y":0.0497,"lo":0.0447,"hi":0.0547},{"panel":3,"set":"E143","x":0.601,"y":0.0347,"lo":0.0292,"hi":0.0402},{"panel":3,"set":"E143","x":0.681,"y":0.0198,"lo":0.0153,"hi":0.0243},{"panel":3,"set":"E143","x":0.764,"y":0.0192,"lo":0.0132,"hi":0.0252},
      {"panel":4,"set":"SMC","x":0.005,"y":0.0037,"lo":0.0014,"hi":0.006},{"panel":4,"set":"SMC","x":0.008,"y":0.0089,"lo":0.0064,"hi":0.0114},{"panel":4,"set":"SMC","x":0.014,"y":0.0077,"lo":0.0054,"hi":0.01},{"panel":4,"set":"SMC","x":0.025,"y":0.0123,"lo":0.0086,"hi":0.016},{"panel":4,"set":"SMC","x":0.035,"y":0.0132,"lo":0.0088,"hi":0.0176},{"panel":4,"set":"SMC","x":0.049,"y":0.0213,"lo":0.0173,"hi":0.0253},{"panel":4,"set":"SMC","x":0.077,"y":0.0306,"lo":0.0261,"hi":0.0351},{"panel":4,"set":"SMC","x":0.122,"y":0.0428,"lo":0.0373,"hi":0.0483},{"panel":4,"set":"SMC","x":0.173,"y":0.0485,"lo":0.0424,"hi":0.0546},{"panel":4,"set":"SMC","x":0.242,"y":0.0555,"lo":0.0498,"hi":0.0612},{"panel":4,"set":"SMC","x":0.342,"y":0.0652,"lo":0.0578,"hi":0.0726},{"panel":4,"set":"SMC","x":0.48,"y":0.0433,"lo":0.0364,"hi":0.0502}
    ],
    "labels": [
      {"panel":1,"q":"Q²=2 GeV²","group":"KTA17"},
      {"panel":2,"q":"Q²=3 GeV²","group":"KTA17"},
      {"panel":3,"q":"Q²=5 GeV²","group":"KTA17"},
      {"panel":4,"q":"Q²=10 GeV²","group":"KTA17"}
    ]
  },
  "columns": 2,
  "spacing": {"row": 19, "column": 2},
  "resolve": {"scale": {"color": "independent", "strokeDash": "independent", "shape": "independent"}, "legend": {"color": "independent", "strokeDash": "independent", "shape": "independent"}},
  "concat": [
    {
      "width": 240, "height": 273,
      "layer": [
        {
          "data": {"name": "curves"}, "transform": [{"filter": "datum.panel == 1"}],
          "mark": {"type": "line", "strokeWidth": 1.2, "interpolate": "monotone"},
          "encoding": {
            "x": {"field": "x", "type": "quantitative", "scale": {"type": "log", "domain": [0.001, 1]},
              "axis": {"orient": "bottom", "title": "x", "values": [0.001,0.002,0.003,0.004,0.005,0.006,0.007,0.008,0.009,0.01,0.02,0.03,0.04,0.05,0.06,0.07,0.08,0.09,0.1,0.2,0.3,0.4,0.5,0.6,0.7,0.8,0.9,1], "format": "~g", "labelExpr": "indexof(['0.001','0.01','0.1','1'], datum.label) >= 0 ? datum.label : ''", "labelFlush": false, "labelOverlap": false, "labelPadding": 11, "titlePadding": -7, "tickSize": {"condition": {"test": "indexof([0.001,0.01,0.1,1], datum.value) >= 0", "value": -7}, "value": -4}}},
            "y": {"field": "y", "type": "quantitative", "scale": {"domain": [0, 0.1]},
              "axis": {"orient": "left", "title": "xg₁ᵖ(x,Q²)", "titleFontSize": 24, "values": [0,0.01,0.02,0.03,0.04,0.05,0.06,0.07,0.08,0.09,0.1], "format": "~g", "labelExpr": "indexof(['0','0.02','0.04','0.06','0.08','0.1'], datum.label) >= 0 ? datum.label : ''", "labelOverlap": false, "labelPadding": 4, "titlePadding": 23, "tickSize": {"condition": {"test": "indexof([0,0.02,0.04,0.06,0.08,0.1], datum.value) >= 0", "value": -7}, "value": -4}}},
            "color": {"field": "model", "type": "nominal", "scale": {"domain": ["NNLO pQCD+TMC+HT", "THK NLO pQCD+TMC+HT", "KATAO NLO", "TKAA NNLO"], "range": ["black", "black", "red", "blue"]},
              "legend": {"orient": "none", "legendX": 12, "legendY": 28, "title": null, "symbolType": "M-3,0L3,0", "symbolSize": 144, "symbolStrokeWidth": 1.2, "labelOffset": 34, "rowPadding": 5.5}},
            "strokeDash": {"field": "model", "type": "nominal", "scale": {"domain": ["NNLO pQCD+TMC+HT", "THK NLO pQCD+TMC+HT", "KATAO NLO", "TKAA NNLO"], "range": [[1, 0], [7, 3, 2, 3], [6, 4], [5, 2, 1, 2]]},
              "legend": {"orient": "none", "legendX": 12, "legendY": 28, "title": null, "symbolType": "M-3,0L3,0", "symbolSize": 144, "symbolStrokeWidth": 1.2, "labelOffset": 34, "rowPadding": 5.5}}
          }
        },
        {
          "data": {"name": "points"}, "transform": [{"filter": "datum.panel == 1"}],
          "mark": {"type": "errorbar", "color": "black", "thickness": 1, "ticks": {"size": 5, "thickness": 1, "color": "black"}},
          "encoding": {
            "x": {"field": "x", "type": "quantitative", "scale": {"type": "log"}, "axis": null},
            "y": {"field": "lo", "type": "quantitative", "axis": null},
            "y2": {"field": "hi"}
          }
        },
        {
          "data": {"name": "points"}, "transform": [{"filter": "datum.panel == 1"}],
          "mark": {"type": "point", "filled": true, "fill": "red", "stroke": "black", "strokeWidth": 0.8, "size": 64, "opacity": 1},
          "encoding": {
            "x": {"field": "x", "type": "quantitative", "scale": {"type": "log"}, "axis": null},
            "y": {"field": "y", "type": "quantitative", "axis": null},
            "shape": {"field": "set", "type": "nominal", "scale": {"domain": ["E143"], "range": ["circle"]},
              "legend": {"orient": "none", "legendX": 14.6, "legendY": 101, "title": null, "symbolSize": 50, "symbolFillColor": "red", "symbolStrokeColor": "black", "symbolStrokeWidth": 0.8, "labelOffset": 31.7, "labelFont": "Liberation Serif", "labelFontWeight": "bold", "labelFontSize": 12, "labelColor": "black"}}
          }
        },
        {
          "data": {"name": "labels"}, "transform": [{"filter": "datum.panel == 1"}],
          "mark": {"type": "text", "font": "Liberation Serif", "fontWeight": "bold", "fontSize": 23, "align": "left", "baseline": "alphabetic", "color": "black"},
          "encoding": {
            "x": {"datum": 0.002, "type": "quantitative", "scale": {"type": "log"}, "axis": null},
            "y": {"datum": 0.0465, "type": "quantitative", "axis": null},
            "text": {"field": "q"}
          }
        },
        {
          "data": {"name": "labels"}, "transform": [{"filter": "datum.panel == 1"}],
          "mark": {"type": "text", "font": "Liberation Serif", "fontWeight": "bold", "fontSize": 13, "align": "center", "baseline": "middle", "color": "black"},
          "encoding": {
            "x": {"datum": 0.125, "type": "quantitative", "scale": {"type": "log"},
              "axis": {"orient": "top", "title": null, "labels": false, "values": [0.001,0.002,0.003,0.004,0.005,0.006,0.007,0.008,0.009,0.01,0.02,0.03,0.04,0.05,0.06,0.07,0.08,0.09,0.1,0.2,0.3,0.4,0.5,0.6,0.7,0.8,0.9,1], "tickSize": {"condition": {"test": "indexof([0.001,0.01,0.1,1], datum.value) >= 0", "value": -7}, "value": -4}}},
            "y": {"datum": 0.0926, "type": "quantitative",
              "axis": {"orient": "right", "title": null, "labels": false, "values": [0,0.01,0.02,0.03,0.04,0.05,0.06,0.07,0.08,0.09,0.1], "tickSize": {"condition": {"test": "indexof([0,0.02,0.04,0.06,0.08,0.1], datum.value) >= 0", "value": -7}, "value": -4}}},
            "text": {"field": "group"}
          }
        }
      ],
      "resolve": {"axis": {"x": "independent", "y": "independent"}}
    },
    {
      "width": 240, "height": 273,
      "layer": [
        {
          "data": {"name": "curves"}, "transform": [{"filter": "datum.panel == 2"}],
          "mark": {"type": "line", "strokeWidth": 1.2, "interpolate": "monotone"},
          "encoding": {
            "x": {"field": "x", "type": "quantitative", "scale": {"type": "log", "domain": [0.001, 1]},
              "axis": {"orient": "bottom", "title": "x", "values": [0.001,0.002,0.003,0.004,0.005,0.006,0.007,0.008,0.009,0.01,0.02,0.03,0.04,0.05,0.06,0.07,0.08,0.09,0.1,0.2,0.3,0.4,0.5,0.6,0.7,0.8,0.9,1], "format": "~g", "labelExpr": "indexof(['0.001','0.01','0.1','1'], datum.label) >= 0 ? datum.label : ''", "labelFlush": false, "labelOverlap": false, "labelPadding": 11, "titlePadding": -7, "tickSize": {"condition": {"test": "indexof([0.001,0.01,0.1,1], datum.value) >= 0", "value": -7}, "value": -4}}},
            "y": {"field": "y", "type": "quantitative", "scale": {"domain": [0, 0.1]},
              "axis": {"orient": "left", "title": "xg₁ᵖ(x,Q²)", "titleFontSize": 24, "values": [0,0.01,0.02,0.03,0.04,0.05,0.06,0.07,0.08,0.09,0.1], "format": "~g", "labelExpr": "indexof(['0','0.02','0.04','0.06','0.08','0.1'], datum.label) >= 0 ? datum.label : ''", "labelOverlap": false, "labelPadding": 4, "titlePadding": 23, "tickSize": {"condition": {"test": "indexof([0,0.02,0.04,0.06,0.08,0.1], datum.value) >= 0", "value": -7}, "value": -4}}},
            "color": {"field": "model", "type": "nominal", "scale": {"domain": ["NNLO pQCD+TMC+HT", "THK NLO pQCD+TMC+HT", "KATAO NLO", "TKAA NNLO"], "range": ["black", "black", "red", "blue"]},
              "legend": {"orient": "none", "legendX": 12, "legendY": 28, "title": null, "symbolType": "M-3,0L3,0", "symbolSize": 144, "symbolStrokeWidth": 1.2, "labelOffset": 34, "rowPadding": 5.5}},
            "strokeDash": {"field": "model", "type": "nominal", "scale": {"domain": ["NNLO pQCD+TMC+HT", "THK NLO pQCD+TMC+HT", "KATAO NLO", "TKAA NNLO"], "range": [[1, 0], [7, 3, 2, 3], [6, 4], [5, 2, 1, 2]]},
              "legend": {"orient": "none", "legendX": 12, "legendY": 28, "title": null, "symbolType": "M-3,0L3,0", "symbolSize": 144, "symbolStrokeWidth": 1.2, "labelOffset": 34, "rowPadding": 5.5}}
          }
        },
        {
          "data": {"name": "points"}, "transform": [{"filter": "datum.panel == 2"}],
          "mark": {"type": "errorbar", "color": "black", "thickness": 1, "ticks": {"size": 5, "thickness": 1, "color": "black"}},
          "encoding": {
            "x": {"field": "x", "type": "quantitative", "scale": {"type": "log"}, "axis": null},
            "y": {"field": "lo", "type": "quantitative", "axis": null},
            "y2": {"field": "hi"}
          }
        },
        {
          "data": {"name": "points"}, "transform": [{"filter": "datum.panel == 2"}],
          "mark": {"type": "point", "filled": true, "fill": "red", "stroke": "black", "strokeWidth": 0.8, "size": 64, "opacity": 1},
          "encoding": {
            "x": {"field": "x", "type": "quantitative", "scale": {"type": "log"}, "axis": null},
            "y": {"field": "y", "type": "quantitative", "axis": null},
            "shape": {"field": "set", "type": "nominal", "scale": {"domain": ["E143"], "range": ["circle"]},
              "legend": {"orient": "none", "legendX": 14.6, "legendY": 101, "title": null, "symbolSize": 50, "symbolFillColor": "red", "symbolStrokeColor": "black", "symbolStrokeWidth": 0.8, "labelOffset": 31.7, "labelFont": "Liberation Serif", "labelFontWeight": "bold", "labelFontSize": 12, "labelColor": "black"}}
          }
        },
        {
          "data": {"name": "labels"}, "transform": [{"filter": "datum.panel == 2"}],
          "mark": {"type": "text", "font": "Liberation Serif", "fontWeight": "bold", "fontSize": 23, "align": "left", "baseline": "alphabetic", "color": "black"},
          "encoding": {
            "x": {"datum": 0.0013, "type": "quantitative", "scale": {"type": "log"}, "axis": null},
            "y": {"datum": 0.0466, "type": "quantitative", "axis": null},
            "text": {"field": "q"}
          }
        },
        {
          "data": {"name": "labels"}, "transform": [{"filter": "datum.panel == 2"}],
          "mark": {"type": "text", "font": "Liberation Serif", "fontWeight": "bold", "fontSize": 13, "align": "center", "baseline": "middle", "color": "black"},
          "encoding": {
            "x": {"datum": 0.1345, "type": "quantitative", "scale": {"type": "log"},
              "axis": {"orient": "top", "title": null, "labels": false, "values": [0.001,0.002,0.003,0.004,0.005,0.006,0.007,0.008,0.009,0.01,0.02,0.03,0.04,0.05,0.06,0.07,0.08,0.09,0.1,0.2,0.3,0.4,0.5,0.6,0.7,0.8,0.9,1], "tickSize": {"condition": {"test": "indexof([0.001,0.01,0.1,1], datum.value) >= 0", "value": -7}, "value": -4}}},
            "y": {"datum": 0.0927, "type": "quantitative",
              "axis": {"orient": "right", "title": null, "labels": false, "values": [0,0.01,0.02,0.03,0.04,0.05,0.06,0.07,0.08,0.09,0.1], "tickSize": {"condition": {"test": "indexof([0,0.02,0.04,0.06,0.08,0.1], datum.value) >= 0", "value": -7}, "value": -4}}},
            "text": {"field": "group"}
          }
        }
      ],
      "resolve": {"axis": {"x": "independent", "y": "independent"}}
    },
    {
      "width": 240, "height": 273,
      "layer": [
        {
          "data": {"name": "curves"}, "transform": [{"filter": "datum.panel == 3"}],
          "mark": {"type": "line", "strokeWidth": 1.2, "interpolate": "monotone"},
          "encoding": {
            "x": {"field": "x", "type": "quantitative", "scale": {"type": "log", "domain": [0.001, 1]},
              "axis": {"orient": "bottom", "title": "x", "values": [0.001,0.002,0.003,0.004,0.005,0.006,0.007,0.008,0.009,0.01,0.02,0.03,0.04,0.05,0.06,0.07,0.08,0.09,0.1,0.2,0.3,0.4,0.5,0.6,0.7,0.8,0.9,1], "format": "~g", "labelExpr": "indexof(['0.001','0.01','0.1','1'], datum.label) >= 0 ? datum.label : ''", "labelFlush": false, "labelOverlap": false, "labelPadding": 11, "titlePadding": -7, "tickSize": {"condition": {"test": "indexof([0.001,0.01,0.1,1], datum.value) >= 0", "value": -7}, "value": -4}}},
            "y": {"field": "y", "type": "quantitative", "scale": {"domain": [0, 0.1]},
              "axis": {"orient": "left", "title": "xg₁ᵖ(x,Q²)", "titleFontSize": 24, "values": [0,0.01,0.02,0.03,0.04,0.05,0.06,0.07,0.08,0.09,0.1], "format": "~g", "labelExpr": "indexof(['0','0.02','0.04','0.06','0.08','0.1'], datum.label) >= 0 ? datum.label : ''", "labelOverlap": false, "labelPadding": 4, "titlePadding": 23, "tickSize": {"condition": {"test": "indexof([0,0.02,0.04,0.06,0.08,0.1], datum.value) >= 0", "value": -7}, "value": -4}}},
            "color": {"field": "model", "type": "nominal", "scale": {"domain": ["NNLO pQCD+TMC+HT", "THK NLO pQCD+TMC+HT", "KATAO NLO", "TKAA NNLO"], "range": ["black", "black", "red", "blue"]},
              "legend": {"orient": "none", "legendX": 12, "legendY": 34, "title": null, "symbolType": "M-3,0L3,0", "symbolSize": 144, "symbolStrokeWidth": 1.2, "labelOffset": 34, "rowPadding": 5.5}},
            "strokeDash": {"field": "model", "type": "nominal", "scale": {"domain": ["NNLO pQCD+TMC+HT", "THK NLO pQCD+TMC+HT", "KATAO NLO", "TKAA NNLO"], "range": [[1, 0], [7, 3, 2, 3], [6, 4], [5, 2, 1, 2]]},
              "legend": {"orient": "none", "legendX": 12, "legendY": 34, "title": null, "symbolType": "M-3,0L3,0", "symbolSize": 144, "symbolStrokeWidth": 1.2, "labelOffset": 34, "rowPadding": 5.5}}
          }
        },
        {
          "data": {"name": "points"}, "transform": [{"filter": "datum.panel == 3"}],
          "mark": {"type": "errorbar", "color": "black", "thickness": 1, "ticks": {"size": 5, "thickness": 1, "color": "black"}},
          "encoding": {
            "x": {"field": "x", "type": "quantitative", "scale": {"type": "log"}, "axis": null},
            "y": {"field": "lo", "type": "quantitative", "axis": null},
            "y2": {"field": "hi"}
          }
        },
        {
          "data": {"name": "points"}, "transform": [{"filter": "datum.panel == 3"}],
          "mark": {"type": "point", "filled": true, "fill": "red", "stroke": "black", "strokeWidth": 0.8, "size": 64, "opacity": 1},
          "encoding": {
            "x": {"field": "x", "type": "quantitative", "scale": {"type": "log"}, "axis": null},
            "y": {"field": "y", "type": "quantitative", "axis": null},
            "shape": {"field": "set", "type": "nominal", "scale": {"domain": ["E143"], "range": ["circle"]},
              "legend": {"orient": "none", "legendX": 14.6, "legendY": 106, "title": null, "symbolSize": 50, "symbolFillColor": "red", "symbolStrokeColor": "black", "symbolStrokeWidth": 0.8, "labelOffset": 31.7, "labelFont": "Liberation Serif", "labelFontWeight": "bold", "labelFontSize": 12, "labelColor": "black"}}
          }
        },
        {
          "data": {"name": "labels"}, "transform": [{"filter": "datum.panel == 3"}],
          "mark": {"type": "text", "font": "Liberation Serif", "fontWeight": "bold", "fontSize": 23, "align": "left", "baseline": "alphabetic", "color": "black"},
          "encoding": {
            "x": {"datum": 0.0016, "type": "quantitative", "scale": {"type": "log"}, "axis": null},
            "y": {"datum": 0.0455, "type": "quantitative", "axis": null},
            "text": {"field": "q"}
          }
        },
        {
          "data": {"name": "labels"}, "transform": [{"filter": "datum.panel == 3"}],
          "mark": {"type": "text", "font": "Liberation Serif", "fontWeight": "bold", "fontSize": 13, "align": "center", "baseline": "middle", "color": "black"},
          "encoding": {
            "x": {"datum": 0.14, "type": "quantitative", "scale": {"type": "log"},
              "axis": {"orient": "top", "title": null, "labels": false, "values": [0.001,0.002,0.003,0.004,0.005,0.006,0.007,0.008,0.009,0.01,0.02,0.03,0.04,0.05,0.06,0.07,0.08,0.09,0.1,0.2,0.3,0.4,0.5,0.6,0.7,0.8,0.9,1], "tickSize": {"condition": {"test": "indexof([0.001,0.01,0.1,1], datum.value) >= 0", "value": -7}, "value": -4}}},
            "y": {"datum": 0.0907, "type": "quantitative",
              "axis": {"orient": "right", "title": null, "labels": false, "values": [0,0.01,0.02,0.03,0.04,0.05,0.06,0.07,0.08,0.09,0.1], "tickSize": {"condition": {"test": "indexof([0,0.02,0.04,0.06,0.08,0.1], datum.value) >= 0", "value": -7}, "value": -4}}},
            "text": {"field": "group"}
          }
        }
      ],
      "resolve": {"axis": {"x": "independent", "y": "independent"}}
    },
    {
      "width": 240, "height": 273,
      "layer": [
        {
          "data": {"name": "curves"}, "transform": [{"filter": "datum.panel == 4"}],
          "mark": {"type": "line", "strokeWidth": 1.2, "interpolate": "monotone"},
          "encoding": {
            "x": {"field": "x", "type": "quantitative", "scale": {"type": "log", "domain": [0.001, 1]},
              "axis": {"orient": "bottom", "title": "x", "values": [0.001,0.002,0.003,0.004,0.005,0.006,0.007,0.008,0.009,0.01,0.02,0.03,0.04,0.05,0.06,0.07,0.08,0.09,0.1,0.2,0.3,0.4,0.5,0.6,0.7,0.8,0.9,1], "format": "~g", "labelExpr": "indexof(['0.001','0.01','0.1','1'], datum.label) >= 0 ? datum.label : ''", "labelFlush": false, "labelOverlap": false, "labelPadding": 11, "titlePadding": -7, "tickSize": {"condition": {"test": "indexof([0.001,0.01,0.1,1], datum.value) >= 0", "value": -7}, "value": -4}}},
            "y": {"field": "y", "type": "quantitative", "scale": {"domain": [0, 0.1]},
              "axis": {"orient": "left", "title": "xg₁ᵖ(x,Q²)", "titleFontSize": 24, "values": [0,0.01,0.02,0.03,0.04,0.05,0.06,0.07,0.08,0.09,0.1], "format": "~g", "labelExpr": "indexof(['0','0.02','0.04','0.06','0.08','0.1'], datum.label) >= 0 ? datum.label : ''", "labelOverlap": false, "labelPadding": 4, "titlePadding": 23, "tickSize": {"condition": {"test": "indexof([0,0.02,0.04,0.06,0.08,0.1], datum.value) >= 0", "value": -7}, "value": -4}}},
            "color": {"field": "model", "type": "nominal", "scale": {"domain": ["NNLO pQCD+TMC+HT", "THK NLO pQCD+TMC+HT", "KATAO NLO", "TKAA NNLO"], "range": ["black", "black", "red", "blue"]},
              "legend": {"orient": "none", "legendX": 12, "legendY": 34, "title": null, "symbolType": "M-3,0L3,0", "symbolSize": 144, "symbolStrokeWidth": 1.2, "labelOffset": 34, "rowPadding": 5.5}},
            "strokeDash": {"field": "model", "type": "nominal", "scale": {"domain": ["NNLO pQCD+TMC+HT", "THK NLO pQCD+TMC+HT", "KATAO NLO", "TKAA NNLO"], "range": [[1, 0], [7, 3, 2, 3], [6, 4], [5, 2, 1, 2]]},
              "legend": {"orient": "none", "legendX": 12, "legendY": 34, "title": null, "symbolType": "M-3,0L3,0", "symbolSize": 144, "symbolStrokeWidth": 1.2, "labelOffset": 34, "rowPadding": 5.5}}
          }
        },
        {
          "data": {"name": "points"}, "transform": [{"filter": "datum.panel == 4"}],
          "mark": {"type": "errorbar", "color": "black", "thickness": 1, "ticks": {"size": 5, "thickness": 1, "color": "black"}},
          "encoding": {
            "x": {"field": "x", "type": "quantitative", "scale": {"type": "log"}, "axis": null},
            "y": {"field": "lo", "type": "quantitative", "axis": null},
            "y2": {"field": "hi"}
          }
        },
        {
          "data": {"name": "points"}, "transform": [{"filter": "datum.panel == 4"}],
          "mark": {"type": "point", "filled": true, "fill": "#0000e6", "stroke": "black", "strokeWidth": 0.8, "size": 55, "opacity": 1},
          "encoding": {
            "x": {"field": "x", "type": "quantitative", "scale": {"type": "log"}, "axis": null},
            "y": {"field": "y", "type": "quantitative", "axis": null},
            "shape": {"field": "set", "type": "nominal", "scale": {"domain": ["SMC"], "range": ["triangle-up"]},
              "legend": {"orient": "none", "legendX": 14.6, "legendY": 106, "title": null, "symbolSize": 50, "symbolFillColor": "#0000e6", "symbolStrokeColor": "black", "symbolStrokeWidth": 0.8, "labelOffset": 31.7, "labelFont": "Liberation Serif", "labelFontWeight": "bold", "labelFontSize": 12, "labelColor": "black"}}
          }
        },
        {
          "data": {"name": "labels"}, "transform": [{"filter": "datum.panel == 4"}],
          "mark": {"type": "text", "font": "Liberation Serif", "fontWeight": "bold", "fontSize": 23, "align": "left", "baseline": "alphabetic", "color": "black"},
          "encoding": {
            "x": {"datum": 0.00148, "type": "quantitative", "scale": {"type": "log"}, "axis": null},
            "y": {"datum": 0.045, "type": "quantitative", "axis": null},
            "text": {"field": "q"}
          }
        },
        {
          "data": {"name": "labels"}, "transform": [{"filter": "datum.panel == 4"}],
          "mark": {"type": "text", "font": "Liberation Serif", "fontWeight": "bold", "fontSize": 13, "align": "center", "baseline": "middle", "color": "black"},
          "encoding": {
            "x": {"datum": 0.1345, "type": "quantitative", "scale": {"type": "log"},
              "axis": {"orient": "top", "title": null, "labels": false, "values": [0.001,0.002,0.003,0.004,0.005,0.006,0.007,0.008,0.009,0.01,0.02,0.03,0.04,0.05,0.06,0.07,0.08,0.09,0.1,0.2,0.3,0.4,0.5,0.6,0.7,0.8,0.9,1], "tickSize": {"condition": {"test": "indexof([0.001,0.01,0.1,1], datum.value) >= 0", "value": -7}, "value": -4}}},
            "y": {"datum": 0.091, "type": "quantitative",
              "axis": {"orient": "right", "title": null, "labels": false, "values": [0,0.01,0.02,0.03,0.04,0.05,0.06,0.07,0.08,0.09,0.1], "tickSize": {"condition": {"test": "indexof([0,0.02,0.04,0.06,0.08,0.1], datum.value) >= 0", "value": -7}, "value": -4}}},
            "text": {"field": "group"}
          }
        }
      ],
      "resolve": {"axis": {"x": "independent", "y": "independent"}}
    }
  ]
}
